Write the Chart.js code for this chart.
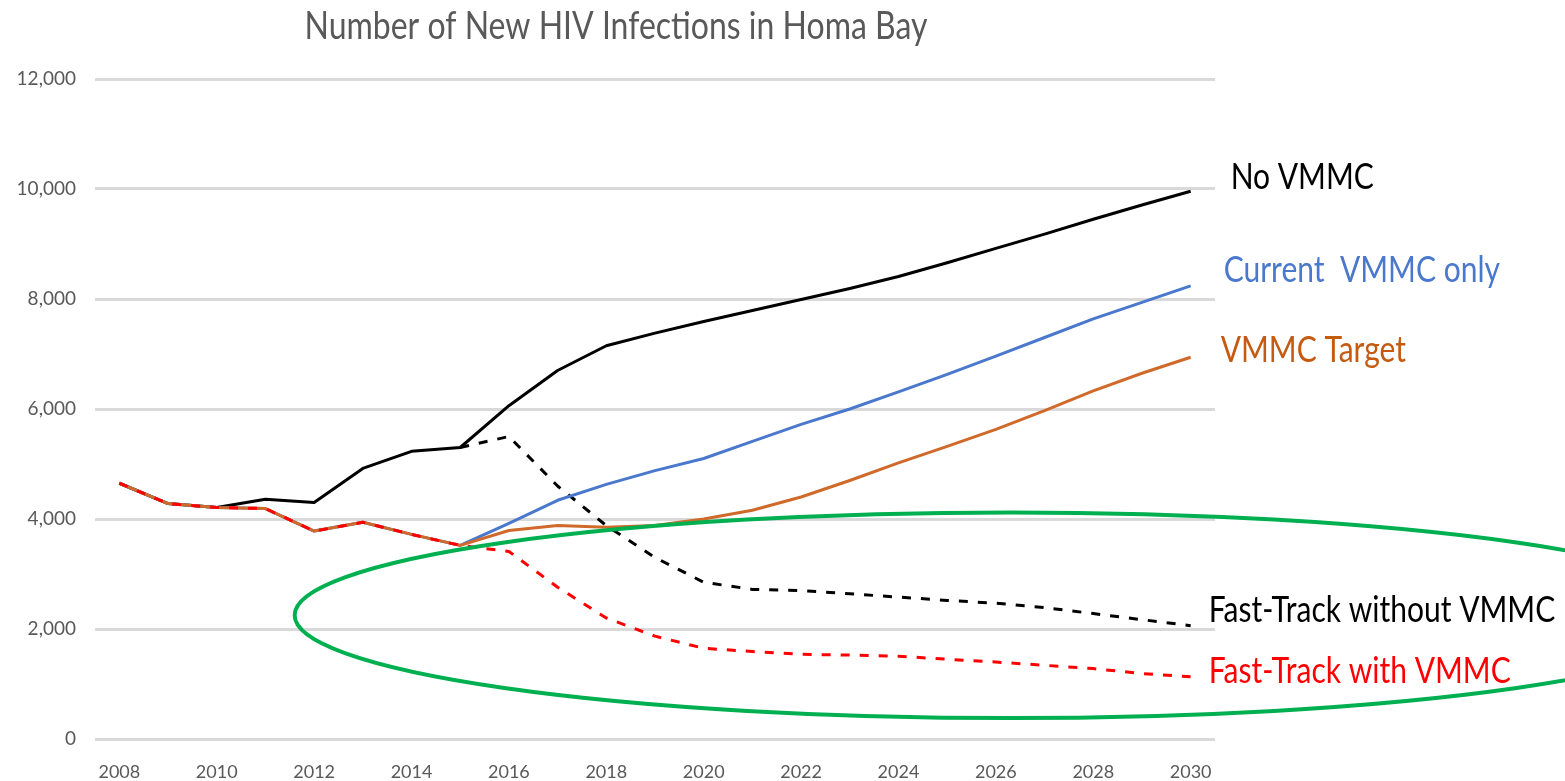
<!DOCTYPE html>
<html>
<head>
<meta charset="utf-8">
<script src="https://cdn.jsdelivr.net/npm/chart.js@4.4.1/dist/chart.umd.min.js"></script>
<style>
  html, body { margin: 0; padding: 0; background: #fff; }
  #wrap { width: 1565px; height: 781px; position: relative; }
</style>
</head>
<body>
<div id="wrap"><canvas id="chartHomaBay"></canvas></div>
<script>
const chartTitle = "Number of New HIV Infections in Homa Bay";
const years = ["2008", "2009", "2010", "2011", "2012", "2013", "2014", "2015", "2016", "2017", "2018", "2019",
  "2020", "2021", "2022", "2023", "2024", "2025", "2026", "2027", "2028", "2029", "2030"];
const yTicks = [0, 2000, 4000, 6000, 8000, 10000, 12000];

const noVmmc = [4650, 4280, 4210, 4360, 4300, 4920, 5230, 5300, 6060, 6700, 7150, 7380,
  7590, 7790, 7990, 8190, 8410, 8660, 8920, 9180, 9450, 9710, 9960];
const currentVmmc = [4650, 4280, 4210, 4190, 3780, 3940, 3720, 3520, 3920, 4340, 4630, 4880,
  5100, 5410, 5720, 6000, 6310, 6630, 6960, 7300, 7640, 7940, 8240];
const vmmcTarget = [4650, 4280, 4210, 4190, 3780, 3940, 3720, 3520, 3790, 3880, 3850, 3880,
  4000, 4160, 4400, 4700, 5020, 5320, 5630, 5970, 6330, 6650, 6940];
const fastTrackNoVmmc = [null, null, null, null, null, null, null, 5300, 5500, 4600, 3880, 3300,
  2850, 2720, 2700, 2640, 2580, 2520, 2470, 2390, 2280, 2170, 2060];
const fastTrackVmmc = [4650, 4280, 4210, 4190, 3780, 3940, 3720, 3520, 3410, 2760, 2200, 1870,
  1650, 1590, 1540, 1525, 1505, 1450, 1400, 1340, 1280, 1190, 1130];

// green highlight ring, in data units (category index / infections)
const ringCenter = [18.3, 2250];
const ringRadius = [14.7, 1870];

const FONT = "Lato, 'Open Sans', sans-serif";

function stretchText(ctx, text, x, y, color, size, align) {
  ctx.save();
  ctx.font = size + "px " + FONT;
  ctx.fillStyle = color;
  ctx.textAlign = align || "left";
  ctx.textBaseline = "middle";
  ctx.translate(x, y);
  ctx.scale(1, 1.2);
  ctx.fillText(text, 0, 0);
  ctx.restore();
}

const overlayPlugin = {
  id: "overlay",
  afterDatasetsDraw(chart) {
    const { ctx, scales: { x, y } } = chart;
    const cx = x.getPixelForValue(ringCenter[0]);
    const cy = y.getPixelForValue(ringCenter[1]);
    const rx = x.getPixelForValue(ringCenter[0] + ringRadius[0]) - cx;
    const ry = y.getPixelForValue(ringCenter[1] - ringRadius[1]) - cy;
    ctx.save();
    ctx.beginPath();
    ctx.ellipse(cx, cy, rx, ry, 0, 0, Math.PI * 2);
    ctx.strokeStyle = "#00b050";
    ctx.lineWidth = 4;
    ctx.stroke();
    ctx.restore();

    chart.data.datasets.forEach((ds, i) => {
      const pts = chart.getDatasetMeta(i).data;
      const last = pts[pts.length - 1];
      stretchText(ctx, ds.label, last.x + ds.labelDx, last.y + ds.labelDy, ds.labelColor, 30);
    });

    stretchText(ctx, chartTitle, 616, 27, "#595959", 32, "center");
  },
};

new Chart(document.getElementById("chartHomaBay"), {
  type: "line",
  data: {
    labels: years,
    datasets: [
      { label: "Fast-Track with VMMC", data: fastTrackVmmc, borderColor: "#ff0000", borderDash: [9, 10], labelColor: "#ff0000", labelDx: 18, labelDy: -5 },
      { label: "VMMC Target", data: vmmcTarget, borderColor: "#cf6a2b", labelColor: "#c55a11", labelDx: 30, labelDy: -7 },
      { label: "Current  VMMC only", data: currentVmmc, borderColor: "#4a78cc", labelColor: "#4a78cc", labelDx: 33, labelDy: -15 },
      { label: "Fast-Track without VMMC", data: fastTrackNoVmmc, borderColor: "#000000", borderDash: [9, 10], labelColor: "#000000", labelDx: 18, labelDy: -15 },
      { label: "No VMMC", data: noVmmc, borderColor: "#000000", labelColor: "#000000", labelDx: 40, labelDy: -14 },
    ],
  },
  options: {
    responsive: true,
    maintainAspectRatio: false,
    animation: false,
    layout: { padding: { top: 79, right: 350, bottom: 0, left: 0 } },
    elements: { line: { borderWidth: 3, tension: 0, borderJoinStyle: "round", fill: false }, point: { radius: 0 } },
    plugins: { legend: { display: false }, tooltip: { enabled: false }, title: { display: false } },
    scales: {
      x: {
        offset: true,
        grid: { display: false },
        border: { display: false },
        afterFit: (s) => { s.height = 42; },
        ticks: {
          autoSkip: false, maxRotation: 0, padding: 14, color: "#595959",
          font: { family: FONT, size: 18 },
          callback: (v, i) => (i % 2 === 0 ? years[i] : ""),
        },
      },
      y: {
        min: 0, max: 12000,
        afterBuildTicks: (s) => { s.ticks = yTicks.map((v) => ({ value: v })); },
        afterFit: (s) => { s.width = 95; },
        border: { display: false },
        grid: { color: "#d9d9d9", lineWidth: 3, drawTicks: false },
        ticks: { padding: 19, color: "#595959", font: { family: FONT, size: 19 }, callback: (v) => v.toLocaleString("en-US") },
      },
    },
  },
  plugins: [overlayPlugin],
});
</script>
</body>
</html>
